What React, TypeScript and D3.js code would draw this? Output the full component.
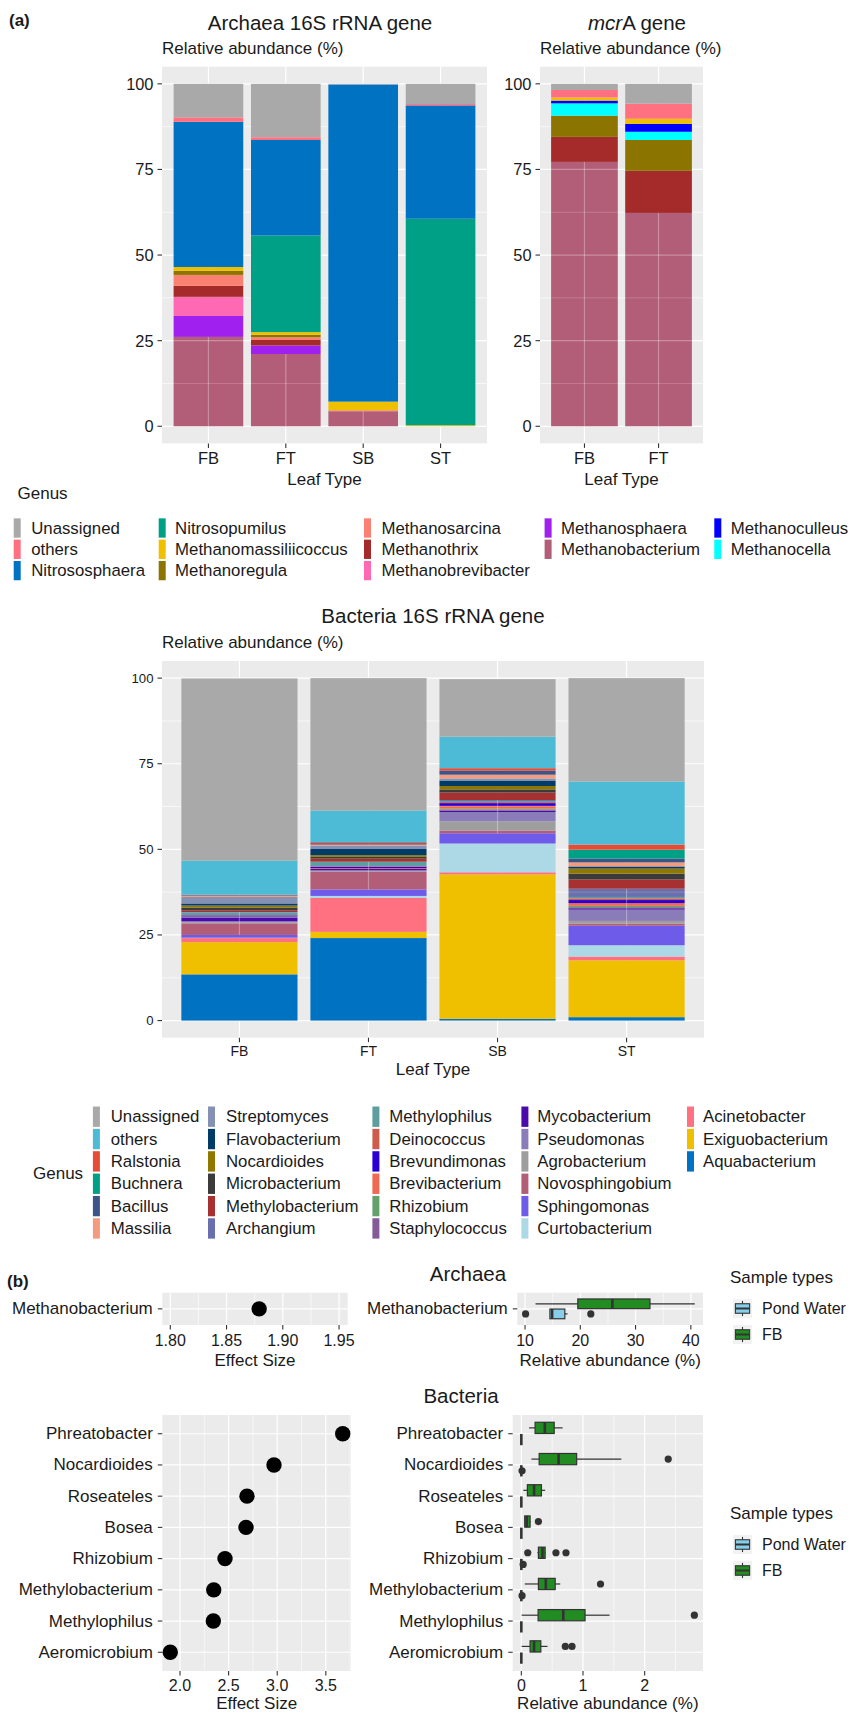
import React from 'react';
import * as d3 from 'd3';

const FONT = "'Liberation Sans', Arial, Helvetica, sans-serif";
const TXT = '#1a1a1a';
const TICK = '#333333';
const PANEL_BG = '#EBEBEB';

// ---------------- Archaea 16S rRNA gene ----------------
const leafTypes = ['FB', 'FT', 'SB', 'ST'];
const archaeaGenera = ['Unassigned', 'others', 'Nitrososphaera', 'Nitrosopumilus', 'Methanomassiliicoccus', 'Methanoregula', 'Methanosarcina', 'Methanothrix', 'Methanobrevibacter', 'Methanosphaera', 'Methanobacterium', 'Methanoculleus', 'Methanocella'];
const archaeaColors = ['#A9A9A9', '#FF7080', '#0072C2', '#00A087', '#EFC000', '#8B7500', '#FA8072', '#A52A2A', '#FF69B4', '#A020F0', '#B35E78', '#0000FF', '#00FFFF'];
const archFB = [9.8, 1.3, 42.4, 0, 1.1, 1.2, 3.2, 3.2, 5.6, 6.1, 26.1, 0, 0];
const archFT = [15.6, 0.8, 27.9, 28.2, 0.8, 0.7, 0.8, 1.6, 0, 2.5, 21.1, 0, 0];
const archSB = [0.2, 0, 92.6, 0, 2.5, 0, 0.3, 0, 0, 0, 4.4, 0, 0];
const archST = [5.9, 0.4, 33.1, 60.3, 0.3, 0, 0, 0, 0, 0, 0, 0, 0];
const archStackTopToBottom = archaeaGenera;
const archLegendColumns = [
  ['Unassigned', 'others', 'Nitrososphaera'],
  ['Nitrosopumilus', 'Methanomassiliicoccus', 'Methanoregula'],
  ['Methanosarcina', 'Methanothrix', 'Methanobrevibacter'],
  ['Methanosphaera', 'Methanobacterium'],
  ['Methanoculleus', 'Methanocella'],
];

// ---------------- mcrA gene ----------------
const mcrLeafTypes = ['FB', 'FT'];
const mcrFB = [1.8, 2.2, 0, 0, 0.9, 6.2, 0, 7.3, 0, 0, 77.2, 0.8, 3.6];
const mcrFT = [5.8, 4.4, 0, 0, 1.5, 9.0, 0, 12.3, 0, 0, 62.3, 2.3, 2.4];
const mcrStackTopToBottom = ['Unassigned', 'others', 'Methanomassiliicoccus', 'Methanoculleus', 'Methanocella', 'Methanoregula', 'Methanothrix', 'Methanobacterium'];

// ---------------- Bacteria 16S rRNA gene ----------------
const bactGenera = ['Unassigned', 'others', 'Ralstonia', 'Buchnera', 'Bacillus', 'Massilia', 'Streptomyces', 'Flavobacterium', 'Nocardioides', 'Microbacterium', 'Methylobacterium', 'Archangium', 'Methylophilus', 'Deinococcus', 'Brevundimonas', 'Brevibacterium', 'Rhizobium', 'Staphylococcus', 'Mycobacterium', 'Pseudomonas', 'Agrobacterium', 'Novosphingobium', 'Sphingomonas', 'Curtobacterium', 'Acinetobacter', 'Exiguobacterium', 'Aquabacterium'];
const bactColors = ['#A9A9A9', '#4DBBD5', '#E64B35', '#00A087', '#3C5488', '#F39B7F', '#8491B4', '#003C67', '#8F7700', '#3B3B3B', '#A73030', '#6A6FAD', '#5F9EA0', '#CD5C4C', '#2A00D5', '#EE6A50', '#66A06A', '#845B97', '#4B0AAA', '#8A7CB8', '#9E9E9E', '#B35E78', '#6F5BEA', '#ADD8E6', '#FF7080', '#EFC000', '#0072C2'];
const bactFB = [53.2, 9.9, 0.1, 0, 0.2, 0.4, 1.9, 0.6, 0.6, 0.8, 0.5, 0.1, 0.8, 0.1, 0.3, 0.1, 0.1, 0.1, 1.1, 0.3, 0.3, 3.4, 0.8, 0.1, 1.2, 9.4, 13.5];
const bactFT = [38.7, 9.2, 0.3, 0, 0.4, 0.4, 0.9, 1.8, 0.5, 0.5, 0.9, 0, 1.3, 0.2, 0.4, 0.2, 0, 0, 0.4, 0.3, 0.2, 5.1, 1.9, 0.6, 9.9, 1.8, 24.1];
const bactSB = [16.8, 9.2, 0.7, 0, 1.2, 1.1, 0.6, 1.6, 1.0, 0.9, 2.2, 0.3, 0.3, 0.3, 0.8, 0.8, 0.3, 0.3, 0.4, 2.7, 2.7, 0.8, 3.0, 8.4, 0.6, 42.2, 0.5];
const bactST = [30.2, 18.4, 1.5, 2.6, 1.1, 1.2, 0, 0.6, 1.5, 1.7, 2.7, 2.4, 0.4, 0.5, 0.9, 0.8, 0.4, 0.3, 0.4, 3.3, 0.8, 0.6, 5.7, 3.3, 1.1, 16.6, 1.0];
const bactLegendColumns = [
  bactGenera.slice(0, 6), bactGenera.slice(6, 12), bactGenera.slice(12, 18), bactGenera.slice(18, 24), bactGenera.slice(24, 27),
];

const translucentGenera = ['Methanobacterium', 'Archangium', 'Methylophilus', 'Deinococcus', 'Brevundimonas', 'Brevibacterium', 'Rhizobium', 'Staphylococcus', 'Mycobacterium', 'Pseudomonas', 'Agrobacterium', 'Novosphingobium'];

const yTicks = [0, 25, 50, 75, 100];
const yMinor = [12.5, 37.5, 62.5, 87.5];

// ---------------- (b) effect sizes & abundances ----------------
const archEffectGenus = ['Methanobacterium'];
const archEffect = [1.879];
const archEffectTicks = [1.8, 1.85, 1.9, 1.95];
const bactEffectGenus = ['Phreatobacter', 'Nocardioides', 'Roseateles', 'Bosea', 'Rhizobium', 'Methylobacterium', 'Methylophilus', 'Aeromicrobium'];
const bactEffect = [3.674, 2.967, 2.689, 2.679, 2.463, 2.347, 2.343, 1.9];
const bactEffectTicks = [2.0, 2.5, 3.0, 3.5];

// box stats: [lower whisker, Q1, median, Q3, upper whisker]
const archFBBox = [[11.9, 19.55, 25.8, 32.6, 40.7]];
const archFBOut: number[][] = [[]];
const archPondBox = [[14.5, 14.5, 14.9, 17.2, 17.7]];
const archPondOut = [[10.1, 21.9]];
const archAbundTicks = [10, 20, 30, 40];

const bactFBBox = [
  [0.126, 0.223, 0.381, 0.533, 0.669],
  [0.163, 0.289, 0.604, 0.897, 1.621],
  [0.033, 0.098, 0.207, 0.326, 0.386],
  [0.05, 0.055, 0.087, 0.142, 0.15],
  [0.26, 0.277, 0.343, 0.386, 0.4],
  [0.055, 0.277, 0.397, 0.549, 0.631],
  [0.005, 0.272, 0.68, 1.033, 1.431],
  [0.005, 0.142, 0.207, 0.316, 0.424],
];
const bactFBOut = [[], [2.382], [], [0.277], [0.104, 0.561, 0.724], [1.284], [2.806], [0.713, 0.822]];
const bactPondBox = [
  [0, 0, 0, 0, 0], [0, 0, 0, 0, 0], [0, 0, 0, 0, 0], [0, 0, 0, 0, 0],
  [0, 0, 0, 0, 0], [0, 0, 0, 0, 0], [0, 0, 0, 0, 0], [0, 0, 0, 0, 0],
];
const bactPondOut = [[], [0.012], [], [], [0.03], [0.012], [], []];
const bactAbundTicks = [0, 1, 2];

const sampleTypes = ['Pond Water', 'FB'];
const sampleColors = ['#87CEEB', '#228B22'];

// ---------------- components ----------------
type StackProps = {
  left: number; right: number; top: number; bottom: number;
  cats: string[]; genera: string[]; colors: string[]; values: number[][]; order: string[];
  yFont: number; xFont: number; xLabelY: number; leafY: number;
};

function StackedPanel(p: StackProps) {
  const y = d3.scaleLinear().domain([-5, 105]).range([p.bottom, p.top]);
  const xp = d3.scalePoint<string>().domain(p.cats).range([p.left, p.right]).padding(0.6);
  const bw = xp.step() * 0.9;
  const rows = p.cats.map((c, i) => {
    const o: any = { cat: c };
    p.genera.forEach((g, j) => { o[g] = p.values[i][j]; });
    return o;
  });
  const keys = [...p.order].reverse();
  const series = d3.stack<any>().keys(keys)(rows);
  const colorOf = (g: string) => p.colors[p.genera.indexOf(g)];
  return (
    <g>
      <rect x={p.left} y={p.top} width={p.right - p.left} height={p.bottom - p.top} fill={PANEL_BG} />
      {yMinor.map(v => <line key={'mi' + v} x1={p.left} x2={p.right} y1={y(v)} y2={y(v)} stroke="#fff" strokeWidth={0.6} />)}
      {yTicks.map(v => <line key={'ma' + v} x1={p.left} x2={p.right} y1={y(v)} y2={y(v)} stroke="#fff" strokeWidth={1.2} />)}
      {p.cats.map(c => <line key={'vx' + c} x1={xp(c)} x2={xp(c)} y1={p.top} y2={p.bottom} stroke="#fff" strokeWidth={1.2} />)}
      {series.map(s => (
        <g key={s.key}>
          {s.map((d, i) => {
            const h = y(d[0]) - y(d[1]);
            if (h <= 0.01) return null;
            const cx = xp(p.cats[i]) as number;
            const tr = translucentGenera.includes(s.key);
            const lines = tr ? [...yTicks, ...yMinor].filter(v => v > d[0] && v < d[1]) : [];
            return (
              <g key={i}>
                <rect x={cx - bw / 2} y={y(d[1])} width={bw} height={h} fill={colorOf(s.key)} />
                {tr && lines.map(v => <line key={v} x1={cx - bw / 2} x2={cx + bw / 2} y1={y(v)} y2={y(v)} stroke="#fff" strokeOpacity={0.3} strokeWidth={yTicks.includes(v) ? 1.2 : 0.6} />)}
                {tr && <line x1={cx} x2={cx} y1={y(d[1])} y2={y(d[0])} stroke="#fff" strokeOpacity={0.3} strokeWidth={1.2} />}
              </g>
            );
          })}
        </g>
      ))}
      {yTicks.map(v => (
        <g key={'yt' + v}>
          <line x1={p.left - 4.5} x2={p.left} y1={y(v)} y2={y(v)} stroke={TICK} strokeWidth={1.1} />
          <text x={p.left - 8.5} y={y(v)} textAnchor="end" dominantBaseline="central" fontSize={p.yFont} fill={TXT}>{v}</text>
        </g>
      ))}
      {p.cats.map(c => (
        <g key={'xt' + c}>
          <line x1={xp(c)} x2={xp(c)} y1={p.bottom} y2={p.bottom + 4.5} stroke={TICK} strokeWidth={1.1} />
          <text x={xp(c)} y={p.xLabelY} textAnchor="middle" dominantBaseline="central" fontSize={p.xFont} fill={TXT}>{c}</text>
        </g>
      ))}
      <text x={(p.left + p.right) / 2} y={p.leafY} textAnchor="middle" dominantBaseline="central" fontSize={17} fill={TXT}>Leaf Type</text>
      <text x={p.left} y={p.top - 18.3} dominantBaseline="central" fontSize={17} fill={TXT}>Relative abundance (%)</text>
    </g>
  );
}

type LegendProps = {
  genera: string[]; colors: string[]; columns: string[][]; keyX: number[]; textX: number[];
  rowY0: number; rowStep: number; titleX: number; titleY: number; font: number;
};
function GenusLegend(p: LegendProps) {
  return (
    <g>
      <text x={p.titleX} y={p.titleY} dominantBaseline="central" fontSize={17} fill={TXT}>Genus</text>
      {p.columns.map((colItems, col) => colItems.map((g, row) => {
        const cy = p.rowY0 + row * p.rowStep;
        return (
          <g key={g}>
            <rect x={p.keyX[col]} y={cy - p.rowStep / 2 + 1} width={7} height={p.rowStep - 2} fill={p.colors[p.genera.indexOf(g)]} />
            <text x={p.textX[col]} y={cy} dominantBaseline="central" fontSize={p.font} fill={TXT}>{g}</text>
          </g>
        );
      }))}
    </g>
  );
}

type EffProps = {
  left: number; right: number; top: number; bottom: number; cats: string[]; values: number[];
  domain: [number, number]; ticks: number[]; fmt: (n: number) => string; tickY: number; titleY: number;
};
function EffectPanel(p: EffProps) {
  const x = d3.scaleLinear().domain(p.domain).range([p.left, p.right]);
  const yp = d3.scalePoint<string>().domain(p.cats).range([p.top, p.bottom]).padding(0.6);
  const st = p.ticks[1] - p.ticks[0];
  const minors = [p.ticks[0] - st / 2, ...p.ticks.map(t => t + st / 2)].filter(v => v > p.domain[0] && v < p.domain[1]);
  return (
    <g>
      <rect x={p.left} y={p.top} width={p.right - p.left} height={p.bottom - p.top} fill={PANEL_BG} />
      {minors.map(v => <line key={'m' + v} x1={x(v)} x2={x(v)} y1={p.top} y2={p.bottom} stroke="#fff" strokeWidth={0.6} />)}
      {p.ticks.map(v => <line key={'M' + v} x1={x(v)} x2={x(v)} y1={p.top} y2={p.bottom} stroke="#fff" strokeWidth={1.2} />)}
      {p.cats.map(c => <line key={'h' + c} x1={p.left} x2={p.right} y1={yp(c)} y2={yp(c)} stroke="#fff" strokeWidth={1.2} />)}
      {p.cats.map((c, i) => <circle key={'p' + c} cx={x(p.values[i])} cy={yp(c)} r={7.7} fill="#000" />)}
      {p.cats.map(c => (
        <g key={'l' + c}>
          <line x1={p.left - 4.5} x2={p.left} y1={yp(c)} y2={yp(c)} stroke={TICK} strokeWidth={1.1} />
          <text x={p.left - 9.5} y={yp(c)} textAnchor="end" dominantBaseline="central" fontSize={17} fill={TXT}>{c}</text>
        </g>
      ))}
      {p.ticks.map(v => (
        <g key={'t' + v}>
          <line x1={x(v)} x2={x(v)} y1={p.bottom} y2={p.bottom + 4.5} stroke={TICK} strokeWidth={1.1} />
          <text x={x(v)} y={p.tickY} textAnchor="middle" dominantBaseline="central" fontSize={16} fill={TXT}>{p.fmt(v)}</text>
        </g>
      ))}
      <text x={(p.left + p.right) / 2} y={p.titleY} textAnchor="middle" dominantBaseline="central" fontSize={17} fill={TXT}>Effect Size</text>
    </g>
  );
}

type BoxProps = {
  left: number; right: number; top: number; bottom: number; cats: string[];
  domain: [number, number]; ticks: number[]; fb: number[][]; fbOut: number[][]; pw: number[][]; pwOut: number[][];
  tickY: number; titleY: number;
};
function BoxPanel(p: BoxProps) {
  const x = d3.scaleLinear().domain(p.domain).range([p.left, p.right]);
  const yp = d3.scalePoint<string>().domain(p.cats).range([p.top, p.bottom]).padding(0.6);
  const step = yp.step();
  const bh = step * 0.36;
  const off = step * 0.1875;
  const st = p.ticks[1] - p.ticks[0];
  const minors = [p.ticks[0] - st / 2, ...p.ticks.map(t => t + st / 2)].filter(v => v > p.domain[0] && v < p.domain[1]);
  const drawBox = (s: number[], outs: number[], cy: number, fill: string, k: string) => (
    <g key={k}>
      <line x1={x(s[0])} x2={x(s[1])} y1={cy} y2={cy} stroke={TICK} strokeWidth={1.2} />
      <line x1={x(s[3])} x2={x(s[4])} y1={cy} y2={cy} stroke={TICK} strokeWidth={1.2} />
      <rect x={x(s[1])} y={cy - bh / 2} width={Math.max(0, x(s[3]) - x(s[1]))} height={bh} fill={fill} stroke={TICK} strokeWidth={1.2} />
      <line x1={x(s[2])} x2={x(s[2])} y1={cy - bh / 2} y2={cy + bh / 2} stroke={TICK} strokeWidth={2.6} />
      {outs.map((o, j) => <circle key={j} cx={x(o)} cy={cy} r={3.6} fill={TICK} />)}
    </g>
  );
  return (
    <g>
      <rect x={p.left} y={p.top} width={p.right - p.left} height={p.bottom - p.top} fill={PANEL_BG} />
      {minors.map(v => <line key={'m' + v} x1={x(v)} x2={x(v)} y1={p.top} y2={p.bottom} stroke="#fff" strokeWidth={0.6} />)}
      {p.ticks.map(v => <line key={'M' + v} x1={x(v)} x2={x(v)} y1={p.top} y2={p.bottom} stroke="#fff" strokeWidth={1.2} />)}
      {p.cats.map(c => <line key={'h' + c} x1={p.left} x2={p.right} y1={yp(c)} y2={yp(c)} stroke="#fff" strokeWidth={1.2} />)}
      {p.cats.map((c, i) => (
        <g key={'b' + c}>
          {drawBox(p.fb[i], p.fbOut[i], (yp(c) as number) - off, sampleColors[1], 'fb')}
          {drawBox(p.pw[i], p.pwOut[i], (yp(c) as number) + off, sampleColors[0], 'pw')}
        </g>
      ))}
      {p.cats.map(c => (
        <g key={'l' + c}>
          <line x1={p.left - 4.5} x2={p.left} y1={yp(c)} y2={yp(c)} stroke={TICK} strokeWidth={1.1} />
          <text x={p.left - 9.5} y={yp(c)} textAnchor="end" dominantBaseline="central" fontSize={17} fill={TXT}>{c}</text>
        </g>
      ))}
      {p.ticks.map(v => (
        <g key={'t' + v}>
          <line x1={x(v)} x2={x(v)} y1={p.bottom} y2={p.bottom + 4.5} stroke={TICK} strokeWidth={1.1} />
          <text x={x(v)} y={p.tickY} textAnchor="middle" dominantBaseline="central" fontSize={16} fill={TXT}>{v}</text>
        </g>
      ))}
      <text x={(p.left + p.right) / 2} y={p.titleY} textAnchor="middle" dominantBaseline="central" fontSize={17} fill={TXT}>Relative abundance (%)</text>
    </g>
  );
}

function SampleLegend({ x, y }: { x: number; y: number }) {
  const ks = 19;
  return (
    <g>
      <text x={x} y={y} dominantBaseline="central" fontSize={17} fill={TXT}>Sample types</text>
      {sampleTypes.map((s, i) => {
        const ky = y + 22 + i * (ks + 7);
        const kx = x + 3;
        return (
          <g key={s}>
            <rect x={kx} y={ky} width={ks} height={ks} fill="#F2F2F2" />
            <line x1={kx + ks / 2} x2={kx + ks / 2} y1={ky + ks * 0.1} y2={ky + ks * 0.9} stroke={TICK} strokeWidth={1.1} />
            <rect x={kx + ks * 0.125} y={ky + ks * 0.25} width={ks * 0.75} height={ks * 0.5} fill={sampleColors[i]} stroke={TICK} strokeWidth={1.1} />
            <line x1={kx + ks * 0.125} x2={kx + ks * 0.875} y1={ky + ks / 2} y2={ky + ks / 2} stroke={TICK} strokeWidth={2} />
            <text x={x + 32} y={ky + ks / 2} dominantBaseline="central" fontSize={16} fill={TXT}>{s}</text>
          </g>
        );
      })}
    </g>
  );
}

export default function App() {
  return (
    <svg width={858} height={1713} viewBox="0 0 858 1713" style={{ position: 'absolute', left: 0, top: 0 }} fontFamily={FONT}>
      <rect width={858} height={1713} fill="#fff" />
      <text x={9} y={20} fontWeight="bold" fontSize={17} dominantBaseline="central" fill={TXT}>(a)</text>

      <text x={320} y={22} textAnchor="middle" dominantBaseline="central" fontSize={20.5} fill={TXT}>Archaea 16S rRNA gene</text>
      <StackedPanel left={162} right={487} top={66.7} bottom={443.4} cats={leafTypes} genera={archaeaGenera} colors={archaeaColors}
        values={[archFB, archFT, archSB, archST]} order={archStackTopToBottom} yFont={16.4} xFont={16.5} xLabelY={458.3} leafY={479.3} />

      <text x={637} y={22} textAnchor="middle" dominantBaseline="central" fontSize={20.5} fill={TXT}>
        <tspan fontStyle="italic">mcr</tspan><tspan>A gene</tspan>
      </text>
      <StackedPanel left={540} right={703} top={66.7} bottom={443.4} cats={mcrLeafTypes} genera={archaeaGenera} colors={archaeaColors}
        values={[mcrFB, mcrFT]} order={mcrStackTopToBottom} yFont={16.4} xFont={16.5} xLabelY={458.3} leafY={479.3} />

      <GenusLegend genera={archaeaGenera} colors={archaeaColors} columns={archLegendColumns}
        keyX={[13.7, 158.7, 364, 544.6, 714.3]} textX={[31.2, 175.1, 381.5, 561, 730.7]}
        rowY0={528} rowStep={21.3} titleX={17.5} titleY={493.3} font={16.8} />

      <text x={433} y={615.7} textAnchor="middle" dominantBaseline="central" fontSize={20.5} fill={TXT}>Bacteria 16S rRNA gene</text>
      <StackedPanel left={162} right={704} top={661} bottom={1037.7} cats={leafTypes} genera={bactGenera} colors={bactColors}
        values={[bactFB, bactFT, bactSB, bactST]} order={bactGenera} yFont={13.2} xFont={14} xLabelY={1051} leafY={1069} />

      <GenusLegend genera={bactGenera} colors={bactColors} columns={bactLegendColumns}
        keyX={[92.9, 208, 372.4, 521.4, 687]} textX={[110.7, 226, 389.3, 537.2, 703]}
        rowY0={1116.7} rowStep={22.35} titleX={33} titleY={1173.3} font={16.8} />

      <text x={7} y={1281.7} fontWeight="bold" fontSize={17} dominantBaseline="central" fill={TXT}>(b)</text>
      <text x={468} y={1273.3} textAnchor="middle" dominantBaseline="central" fontSize={20.5} fill={TXT}>Archaea</text>
      <EffectPanel left={162.3} right={347.7} top={1292.7} bottom={1325} cats={archEffectGenus} values={archEffect}
        domain={[1.7929, 1.9577]} ticks={archEffectTicks} fmt={d3.format('.2f')} tickY={1340} titleY={1360} />
      <BoxPanel left={517.3} right={703} top={1292.7} bottom={1325} cats={archEffectGenus} domain={[8.6, 42.2]} ticks={archAbundTicks}
        fb={archFBBox} fbOut={archFBOut} pw={archPondBox} pwOut={archPondOut} tickY={1340} titleY={1360} />
      <SampleLegend x={730} y={1277} />

      <text x={461} y={1395} textAnchor="middle" dominantBaseline="central" fontSize={20.5} fill={TXT}>Bacteria</text>
      <EffectPanel left={162.3} right={351} top={1415} bottom={1671} cats={bactEffectGenus} values={bactEffect}
        domain={[1.818, 3.759]} ticks={bactEffectTicks} fmt={d3.format('.1f')} tickY={1685.3} titleY={1703.3} />
      <BoxPanel left={512.7} right={703} top={1415} bottom={1671} cats={bactEffectGenus} domain={[-0.14, 2.946]} ticks={bactAbundTicks}
        fb={bactFBBox} fbOut={bactFBOut} pw={bactPondBox} pwOut={bactPondOut} tickY={1685.3} titleY={1703.3} />
      <SampleLegend x={730} y={1513} />
    </svg>
  );
}
